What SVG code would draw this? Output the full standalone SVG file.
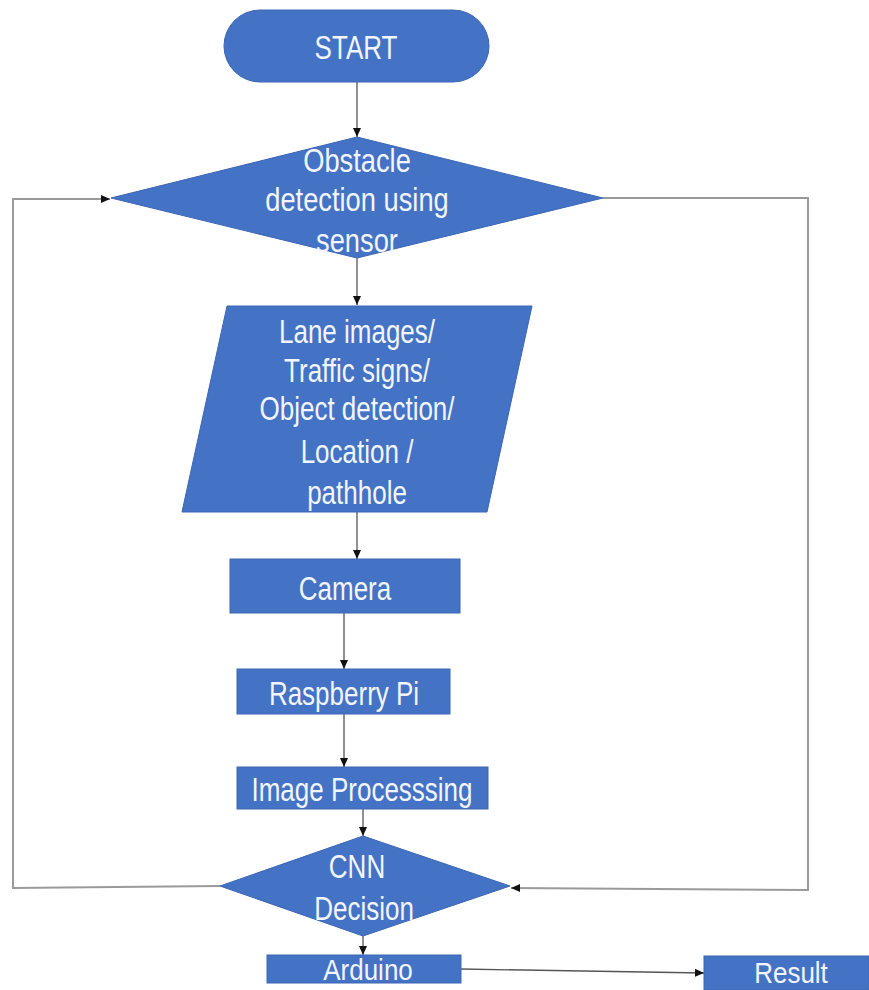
<svg xmlns="http://www.w3.org/2000/svg" width="869" height="990" viewBox="0 0 869 990">
<defs>
<style>
.shape{fill:#4472c4;stroke:#3c66b4;stroke-width:1}
.lbl{font-family:"Liberation Sans",Arial,sans-serif;font-size:26px;fill:#f2f5fb;text-anchor:middle;dominant-baseline:central}
.con{fill:none;stroke:#555;stroke-width:1.3}
.loop{fill:none;stroke:#9a9a9a;stroke-width:2}
</style>
<marker id="ah" markerWidth="10" markerHeight="10" refX="9" refY="5" orient="auto" markerUnits="userSpaceOnUse">
<path d="M0,1 L9,5 L0,9 Z" fill="#111"/>
</marker>
</defs>
<rect width="869" height="990" fill="#ffffff"/>
<g id="connectors">
<line class="con" x1="357" y1="82" x2="357" y2="137" marker-end="url(#ah)"/>
<line class="con" x1="357" y1="258" x2="357" y2="305" marker-end="url(#ah)"/>
<line class="con" x1="357" y1="512" x2="357" y2="559" marker-end="url(#ah)"/>
<line class="con" x1="344" y1="613" x2="344" y2="669" marker-end="url(#ah)"/>
<line class="con" x1="344" y1="714" x2="344" y2="767" marker-end="url(#ah)"/>
<line class="con" x1="363" y1="809" x2="363" y2="836" marker-end="url(#ah)"/>
<line class="con" x1="363" y1="936" x2="363" y2="955" marker-end="url(#ah)"/>
<line class="con" x1="461" y1="969" x2="704" y2="973" marker-end="url(#ah)"/>
<polyline class="loop" points="220,886 13,888 13,199 110,199" marker-end="url(#ah)"/>
<polyline class="loop" points="603,198 808,198 808,890 511,888" marker-end="url(#ah)"/>
</g>
<g id="start">
<rect class="shape" x="224" y="10" width="265" height="72" rx="36" ry="36"/>
<text class="lbl" transform="translate(356,47) scale(1,1.25)" font-size="24">START</text>
</g>
<g id="obstacle">
<polygon class="shape" points="357,137 603,198 357,258 111,198"/>
<text class="lbl" transform="translate(357,161) scale(1.05,1.25)">Obstacle</text>
<text class="lbl" transform="translate(357,200) scale(1.05,1.25)">detection using</text>
<text class="lbl" transform="translate(357,241) scale(1.05,1.25)">sensor</text>
</g>
<g id="input">
<polygon class="shape" points="227,306 532,306 487,512 182,512"/>
<text class="lbl" transform="translate(357,331) scale(1,1.25)">Lane images/</text>
<text class="lbl" transform="translate(357,370) scale(1,1.25)">Traffic signs/</text>
<text class="lbl" transform="translate(357,408) scale(1,1.25)">Object detection/</text>
<text class="lbl" transform="translate(357,451) scale(1,1.25)">Location /</text>
<text class="lbl" transform="translate(357,492) scale(1,1.25)">pathhole</text>
</g>
<g id="camera">
<rect class="shape" x="230" y="559" width="230" height="54"/>
<text class="lbl" transform="translate(345,588) scale(1,1.25)">Camera</text>
</g>
<g id="raspberry">
<rect class="shape" x="237" y="669" width="213" height="45"/>
<text class="lbl" transform="translate(344,693) scale(1,1.25)">Raspberry Pi</text>
</g>
<g id="imageproc">
<rect class="shape" x="237" y="767" width="251" height="42"/>
<text class="lbl" transform="translate(362,789) scale(1,1.25)">Image Processsing</text>
</g>
<g id="cnn">
<polygon class="shape" points="363,836 510,886 363,936 220,886"/>
<text class="lbl" transform="translate(357,866) scale(1,1.25)">CNN</text>
<text class="lbl" transform="translate(364,908) scale(1,1.25)">Decision</text>
</g>
<g id="arduino">
<rect class="shape" x="267" y="955" width="194" height="28"/>
<text class="lbl" transform="translate(368,970) scale(1,1.15)">Arduino</text>
</g>
<g id="result">
<rect class="shape" x="704" y="956" width="165" height="34"/>
<text class="lbl" transform="translate(791,973) scale(1,1.15)">Result</text>
</g>
</svg>
